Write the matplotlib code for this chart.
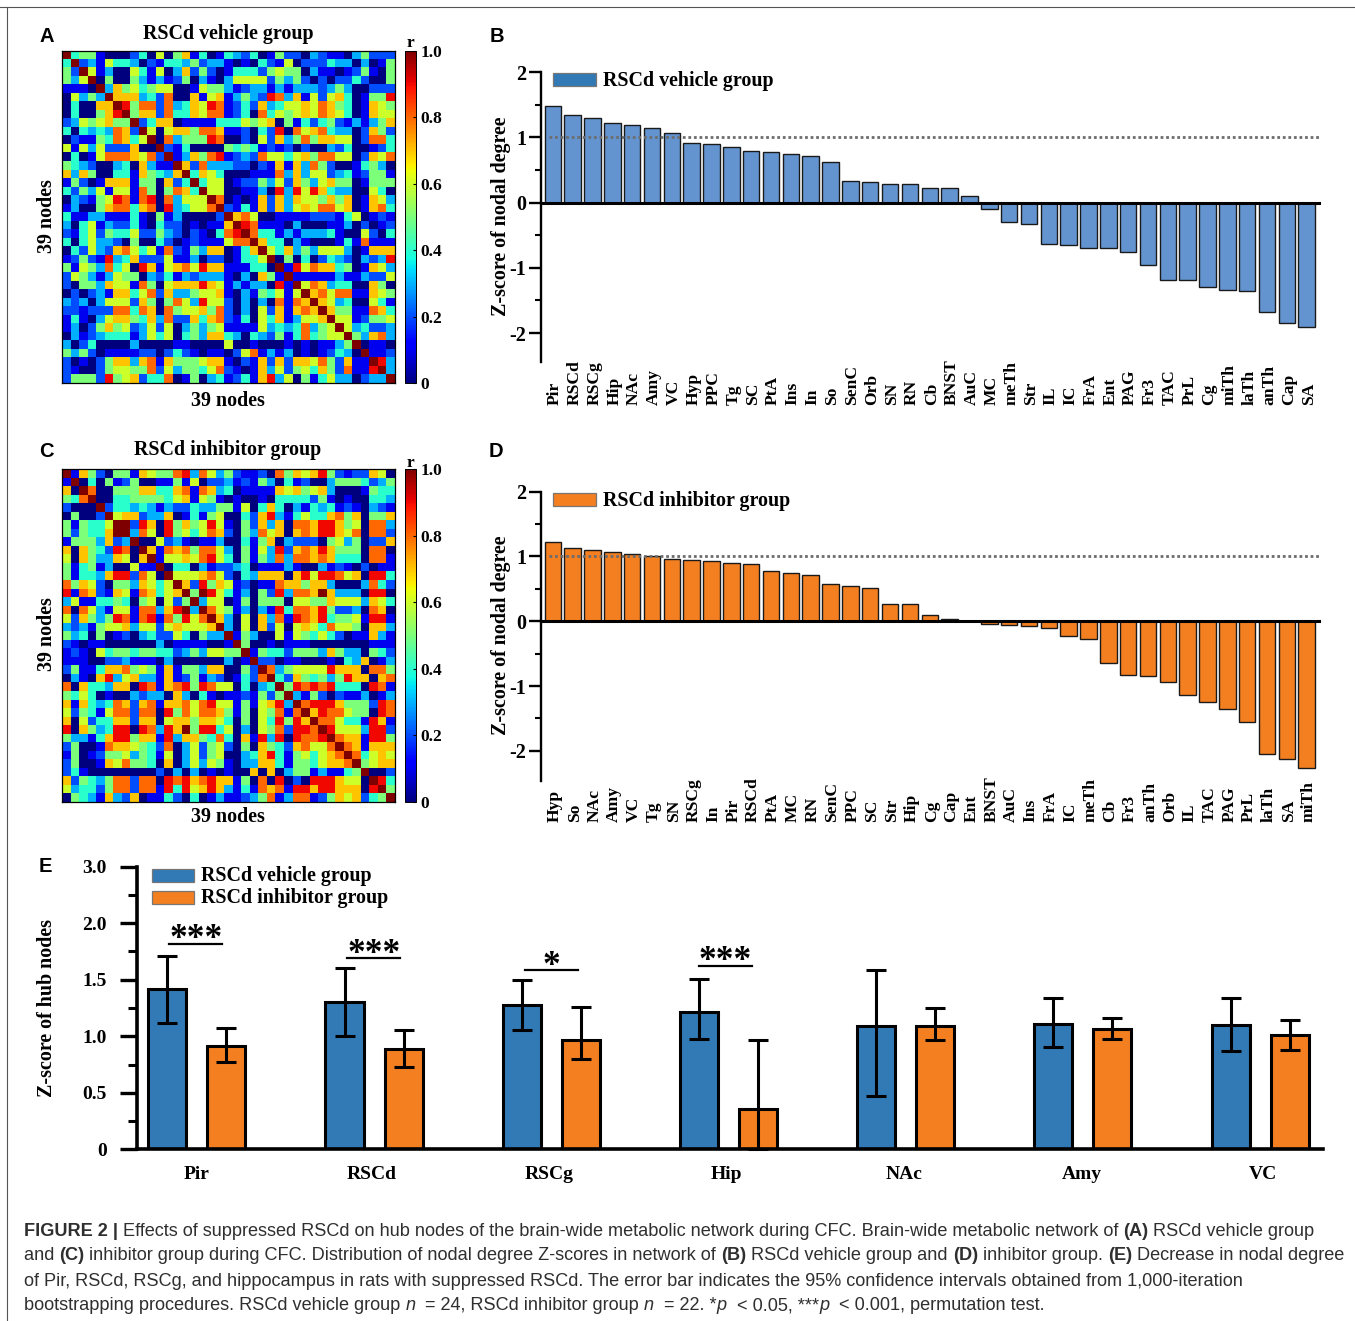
import numpy as np
import matplotlib
matplotlib.use('Agg')
import matplotlib.pyplot as plt
from matplotlib.patches import Rectangle
from matplotlib.lines import Line2D

W, H = 1355, 1321
SERIF = 'Liberation Serif'
SANS = 'Liberation Sans'

# upper triangle of the correlation matrices, r x 10 per cell, X = 1.0
matrix_a_rows = [
    '455100024060571401' '43240152203211035222',
    '23164430214435233' '10104216022243303015',
    '6130064160372520' '14442565503110125105',
    '050053131250310' '36666253520202242005',
    '37564566001655' '31233131333235300222',
    '7773428007167' '13532983716267401559',
    '958828347698' '12427346676875401765',
    '57728447688' '12408465676876401766',
    '2477011114' '44656705142452131357',
    '606775887' '11204290867843302752',
    '08355598' '00206273585776602884',
    '2140000' '54541212020032400124',
    '137589' '12328664675886602768',
    '72833' '32202171738520014530',
    '4764' '00011183736623412551',
    '466' '01225362753675501555',
    '66' '00113093969743300640',
    '8' '01017273766575701763',
    '21417273676886701784',
    '7860011112221460121',
    '981110300011302012',
    '84413133341006204',
    '7440310001418111',
    '647353666301777',
    '05040243203239',
    '1968774501763',
    '111113113226',
    '68734400750',
    '7868811765',
    '763400641',
    '75511874',
    '6612556',
    '634223',
    '53783',
    '0110',
    '112',
    '93',
    '3',
]

matrix_c_rows = [
    '175205517655893863' '52112085767952122760',
    '04051250011516022' '31215304120035554235',
    '8005557744781873' '40111176756730001544',
    '004455554671651' '01001044442510100443',
    '24434313224335' '51604740314341210321',
    '6772337014156' '00427931464478570557',
    'X29709575696' '10527370887997560883',
    '38609564687' '20538670787997680882',
    '0062310113' '00415703222056350227',
    '718785886' '30516392787975550880',
    '16676896' '40515383887874440881',
    '0440312' '23401113100312102011',
    '666786' '20437770796998670994',
    '72957' '61201187757730003842',
    '5X96' '41305293887X73330990',
    '366' '01505550665576663764',
    '86' '51303194887952230870',
    '7' '30607381987945561991',
    '30607260676486650773',
    '1530061654642011731',
    '500101110000000111',
    '15442555375330542',
    '2201100010437013',
    '835666697770885',
    '42754535977078',
    '5989894440981',
    '315202113013',
    '89997555298',
    '7988655098',
    '886441971',
    '96663992',
    '8771995',
    '871777',
    '84676',
    '5677',
    '002',
    '94',
    '5',
]

nodes_b = ['Pir', 'RSCd', 'RSCg', 'Hip', 'NAc', 'Amy', 'VC', 'Hyp', 'PPC', 'Tg', 'SC', 'PtA', 'Ins',
           'In', 'So', 'SenC', 'Orb', 'SN', 'RN', 'Cb', 'BNST', 'AuC', 'MC', 'meTh', 'Str', 'IL', 'IC',
           'FrA', 'Ent', 'PAG', 'Fr3', 'TAC', 'PrL', 'Cg', 'miTh', 'laTh', 'anTh', 'Cap', 'SA']
z_b = [1.48, 1.35, 1.30, 1.23, 1.19, 1.15, 1.07, 0.91, 0.90, 0.85, 0.80, 0.77, 0.75,
       0.71, 0.62, 0.33, 0.32, 0.29, 0.28, 0.225, 0.225, 0.11, -0.09, -0.30, -0.32, -0.63, -0.65,
       -0.70, -0.70, -0.75, -0.96, -1.18, -1.18, -1.30, -1.34, -1.35, -1.68, -1.85, -1.90]

nodes_d = ['Hyp', 'So', 'NAc', 'Amy', 'VC', 'Tg', 'SN', 'RSCg', 'In', 'Pir', 'RSCd', 'PtA', 'MC',
           'RN', 'SenC', 'PPC', 'SC', 'Str', 'Hip', 'Cg', 'Cap', 'Ent', 'BNST', 'AuC', 'Ins', 'FrA',
           'IC', 'meTh', 'Cb', 'Fr3', 'anTh', 'Orb', 'IL', 'TAC', 'PAG', 'PrL', 'laTh', 'SA', 'miTh']
z_d = [1.23, 1.13, 1.10, 1.07, 1.04, 1.00, 0.96, 0.95, 0.93, 0.895, 0.89, 0.77, 0.75,
       0.715, 0.58, 0.55, 0.51, 0.27, 0.26, 0.10, 0.035, 0.01, -0.045, -0.06, -0.065, -0.11,
       -0.225, -0.28, -0.65, -0.83, -0.84, -0.94, -1.135, -1.24, -1.35, -1.56, -2.05, -2.12, -2.26]

hubs = ['Pir', 'RSCd', 'RSCg', 'Hip', 'NAc', 'Amy', 'VC']
veh = [1.416, 1.30, 1.277, 1.212, 1.09, 1.106, 1.097]
veh_up = [1.714, 1.60, 1.496, 1.51, 1.587, 1.339, 1.336]
veh_low = [1.115, 1.006, 1.059, 0.973, 0.469, 0.903, 0.867]
inh = [0.917, 0.885, 0.965, 0.354, 1.088, 1.068, 1.009]
inh_up = [1.07, 1.056, 1.263, 0.968, 1.248, 1.159, 1.145]
inh_low = [0.773, 0.726, 0.80, 0.0, 0.965, 0.973, 0.879]
hub_ticks = [0, 0.5, 1, 1.5, 2, 2.5]
hub_ticklabels = ['0', '0.5', '1.0', '1.5', '2.0', '3.0']

BLUE = '#327ab6'
BLUE_LIGHT = '#6394d0'
ORANGE = '#f47f20'


def build_matrix(rows):
    m = np.eye(39)
    for i, row in enumerate(rows):
        assert len(row) == 38 - i, (i, len(row))
        for j, ch in enumerate(row):
            v = 1.0 if ch == 'X' else int(ch) / 10
            m[i, i + 1 + j] = v
            m[i + 1 + j, i] = v
    return m


def px_axes(left, top, right, bottom):
    return fig.add_axes([left / W, 1 - bottom / H, (right - left) / W, (bottom - top) / H])


def px_text(x, y, s, size=14.4, family=SERIF, weight='bold', **kw):
    kw.setdefault('ha', 'center')
    kw.setdefault('va', 'center')
    return fig.text(x / W, 1 - y / H, s, fontsize=size, family=family, weight=weight, **kw)


def px_rect(x0, y0, x1, y1, color):
    fig.add_artist(Rectangle((x0 / W, 1 - y1 / H), (x1 - x0) / W, (y1 - y0) / H, facecolor=color,
                             edgecolor='#777777', linewidth=0.9, transform=fig.transFigure))


def heatmap(rows, top, title_y, label_y, r_y, title):
    bottom = top + 332.4
    ax = px_axes(62, top, 395, bottom)
    im = ax.imshow(build_matrix(rows), cmap='jet', vmin=0, vmax=1, aspect='auto', interpolation='nearest')
    ax.set_xticks([])
    ax.set_yticks([])
    for s in ax.spines.values():
        s.set_linewidth(0.9)
    cax = px_axes(404.5, top, 415.5, bottom)
    cb = fig.colorbar(im, cax=cax)
    cb.set_ticks([0, 0.2, 0.4, 0.6, 0.8, 1.0])
    cb.set_ticklabels(['0', '0.2', '0.4', '0.6', '0.8', '1.0'], fontsize=12.5, family=SERIF, weight='bold')
    cax.tick_params(length=2.5, width=0.8, direction='in', pad=3.5)
    cb.outline.set_linewidth(0.7)
    px_text(228, title_y + 1.5, title)
    px_text(228, label_y + 1.5, '39 nodes')
    px_text(47.5, (top + bottom) / 2 - 1, '39 nodes', rotation=90)
    px_text(410, r_y, 'r', size=12.5)


def zscore_panel(nodes, z, top_px, zero_px, bottom_px, color, legend_name, label_y):
    ax = px_axes(540.7, top_px, 1319, bottom_px)
    unit = (zero_px - top_px) / 2
    ax.set_ylim(-(bottom_px - zero_px) / unit, 2)
    pitch = 19.84
    ax.set_xlim((540.7 - 552.8) / pitch, (1319 - 552.8) / pitch)
    x = np.arange(len(nodes))
    ax.bar(x, z, width=0.83, color=color, edgecolor='#1a1a1a', linewidth=1.0, zorder=2)
    ax.plot([(549 - 552.8) / pitch, (1320 - 552.8) / pitch], [1, 1], color='#6d6d6d', lw=2.0,
            ls=(0, (1, 1)), zorder=3, clip_on=False)
    for s in ['top', 'right']:
        ax.spines[s].set_visible(False)
    ax.spines['left'].set_linewidth(1.7)
    ax.spines['bottom'].set_position(('data', 0))
    ax.spines['bottom'].set_linewidth(2.2)
    ax.spines['bottom'].set_zorder(4)
    ax.set_xticks([])
    ax.set_yticks([-2, -1, 0, 1, 2])
    ax.set_yticklabels(['-2', '-1', '0', '1', '2'], fontsize=14.5, family=SERIF, weight='bold')
    ax.set_yticks([-1.5, -0.5, 0.5, 1.5], minor=True)
    ax.tick_params(axis='y', which='major', length=8.5, width=1.7, pad=2)
    ax.tick_params(axis='y', which='minor', length=4.3, width=1.5)
    for xi, name in zip(x, nodes):
        ax.text(xi + 0.1, -(label_y - zero_px) / unit, name, rotation=90, ha='center', va='bottom',
                fontsize=12.6, family=SERIF, weight='bold')
    px_rect(553.3, top_px + 1, 596, top_px + 14, color=BLUE if color == BLUE_LIGHT else color)
    px_text(603, top_px + 9, legend_name, ha='left')
    px_text(501, (top_px + bottom_px) / 2 - 1, 'Z-score of nodal degree', rotation=90)


fig = plt.figure(figsize=(W / 100, H / 100), dpi=100, facecolor='white')

fig.add_artist(Line2D([0, 1], [1 - 7 / H, 1 - 7 / H], color='#555555', lw=0.8))
fig.add_artist(Line2D([7 / W, 7 / W], [0, 1 - 7 / H], color='#555555', lw=0.8))

heatmap(matrix_a_rows, 51, 32, 399, 43, 'RSCd vehicle group')
heatmap(matrix_c_rows, 469.3, 449, 815, 463, 'RSCd inhibitor group')

zscore_panel(nodes_b, z_b, 72.3, 202.7, 362.3, BLUE_LIGHT, 'RSCd vehicle group', 405)
zscore_panel(nodes_d, z_d, 491.7, 621.3, 781, ORANGE, 'RSCd inhibitor group', 821.7)

# panel E
ax = px_axes(137.4, 866.7, 1323, 1149.3)
unit_x = 59.07
ax.set_xlim((137.4 - 167.3) / unit_x, (1323 - 167.3) / unit_x)
ax.set_ylim(0, 2.5)
pos = np.arange(len(hubs)) * 3.0
veh = np.array(veh)
inh = np.array(inh)
bar_kw = dict(width=0.645, edgecolor='black', linewidth=2.2, zorder=2)
err_kw = dict(fmt='none', ecolor='black', elinewidth=2.2, capsize=7.5, capthick=2.2, zorder=3, clip_on=False)
ax.bar(pos, veh, color=BLUE, **bar_kw)
ax.bar(pos + 1, inh, color=ORANGE, **bar_kw)
ax.errorbar(pos, veh, yerr=[veh - np.array(veh_low), np.array(veh_up) - veh], **err_kw)
ax.errorbar(pos + 1, inh, yerr=[inh - np.array(inh_low), np.array(inh_up) - inh], **err_kw)
for s in ['top', 'right']:
    ax.spines[s].set_visible(False)
ax.spines['left'].set_linewidth(2.6)
ax.spines['bottom'].set_linewidth(2.6)
ax.spines['bottom'].set_zorder(4)
ax.set_yticks(hub_ticks)
ax.set_yticklabels(hub_ticklabels, fontsize=14, family=SERIF, weight='bold')
ax.set_yticks([0.25, 0.75, 1.25, 1.75, 2.25], minor=True)
ax.tick_params(axis='y', which='major', length=12.5, width=2.4, pad=9.5)
ax.tick_params(axis='y', which='minor', length=6.3, width=2.2)
ax.set_xticks([])
hub_label_x = [0.50, 3.453, 6.47, 9.47, 12.47, 15.49, 18.54]
for xi, name in zip(hub_label_x, hubs):
    ax.text(xi, -0.225, name, ha='center', va='center', fontsize=14, family=SERIF, weight='bold')

sig_x0 = [0.035, 3.05, 6.055, 9.0]
sig_x1 = [0.927, 3.94, 6.95, 9.9]
sig_y = [1.82, 1.69, 1.585, 1.625]
sig_mark = ['***', '***', '*', '***']
for x0, x1, y, mark in zip(sig_x0, sig_x1, sig_y, sig_mark):
    ax.plot([x0, x1], [y, y], color='black', lw=1.6, zorder=3)
    ax.text((x0 + x1) / 2, y + 0.07, mark, ha='center', va='center_baseline', fontsize=25.5,
            family=SERIF, weight='bold', zorder=3)

px_rect(152, 869, 194, 881.7, BLUE)
px_rect(152, 891.3, 194, 903.7, ORANGE)
px_text(201, 876, 'RSCd vehicle group', ha='left')
px_text(201, 898, 'RSCd inhibitor group', ha='left')
px_text(47, 1008, 'Z-score of hub nodes', rotation=90)

for letter, x, y in [('A', 47, 36.5), ('B', 497, 36.5), ('C', 46, 451.5), ('D', 496, 451.5), ('E', 45, 867)]:
    px_text(x, y, letter, size=14.5, family=SANS)

# caption, run by run so bold and italic parts stay in line
caption = [
    (1229, [('FIGURE 2 | ', 'b'),
            ('Effects of suppressed RSCd on hub nodes of the brain-wide metabolic network during CFC. '
             'Brain-wide metabolic network of ', 'n'), ('(A)', 'b'), (' RSCd vehicle group', 'n')]),
    (1254, [('and ', 'n'), ('(C)', 'b'),
            (' inhibitor group during CFC. Distribution of nodal degree Z-scores in network of ', 'n'),
            ('(B)', 'b'), (' RSCd vehicle group and ', 'n'), ('(D)', 'b'), (' inhibitor group. ', 'n'),
            ('(E)', 'b'), (' Decrease in nodal degree', 'n')]),
    (1279, [('of Pir, RSCd, RSCg, and hippocampus in rats with suppressed RSCd. The error bar indicates '
             'the 95% confidence intervals obtained from 1,000-iteration', 'n')]),
    (1304, [('bootstrapping procedures. RSCd vehicle group ', 'n'), ('n', 'i'), ('  = 24, RSCd inhibitor group ', 'n'),
            ('n', 'i'), ('  = 22. *', 'n'), ('p', 'i'), ('  < 0.05, ***', 'n'), ('p', 'i'),
            ('  < 0.001, permutation test.', 'n')]),
]
renderer = fig.canvas.get_renderer()
for y, runs in caption:
    x = 24
    for s, kind in runs:
        t = px_text(x, y, s, size=13.05, family=SANS, weight='bold' if kind == 'b' else 'normal',
                    style='italic' if kind == 'i' else 'normal', ha='left', va='center_baseline', color='#2f2f2f')
        x += t.get_window_extent(renderer).width

fig.savefig('out.png', dpi=100)
